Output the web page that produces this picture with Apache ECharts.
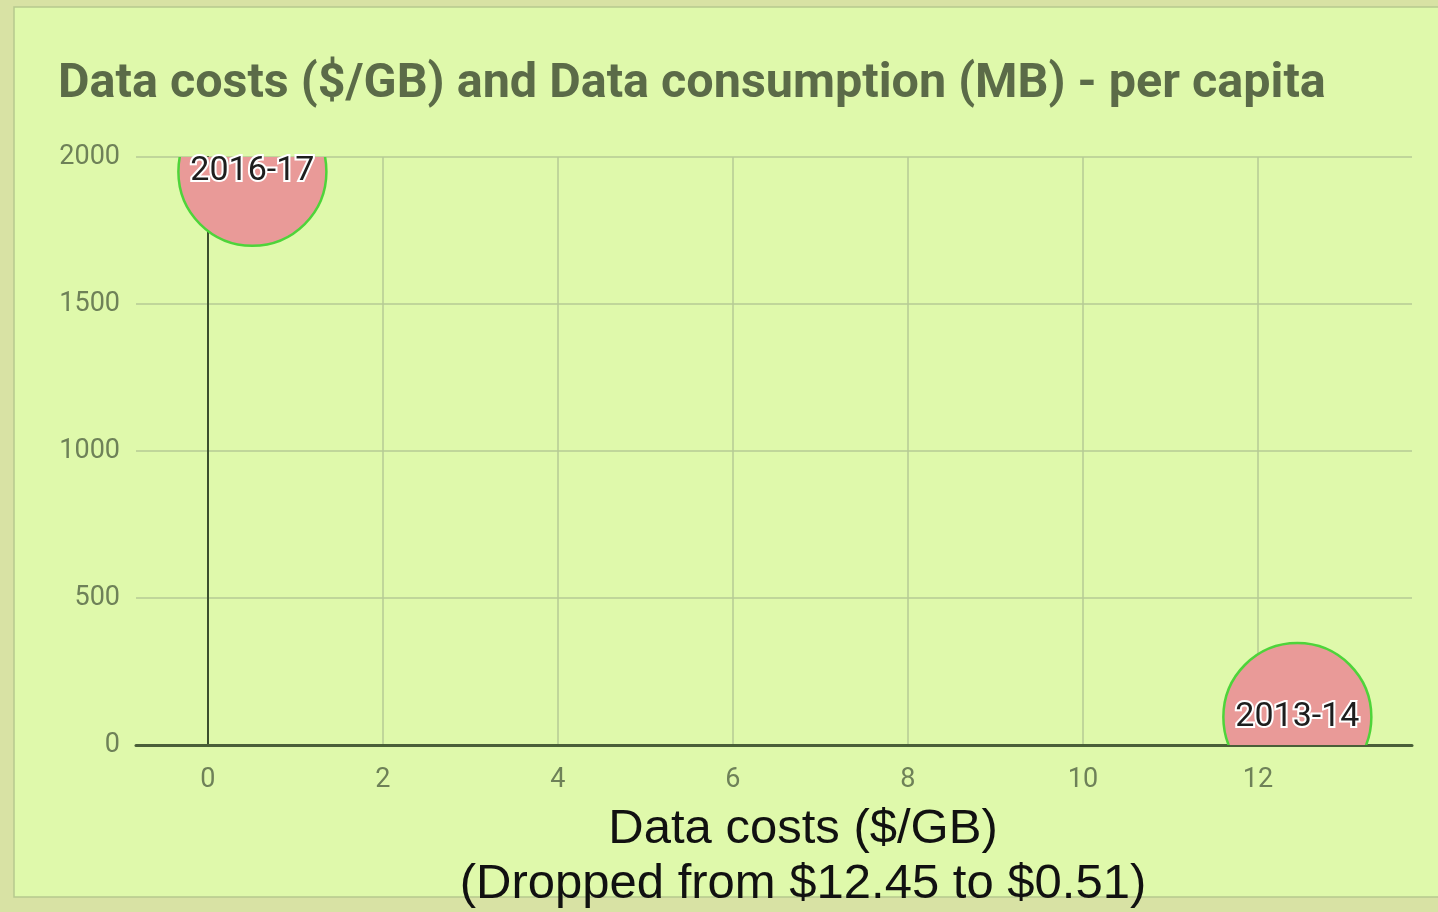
<!DOCTYPE html>
<html>
<head>
<meta charset="utf-8">
<script src="https://cdn.jsdelivr.net/npm/echarts@6/dist/echarts.min.js"></script>
<style>
  html, body { margin: 0; padding: 0; }
  #chart { width: 1438px; height: 912px; }
</style>
</head>
<body>
<div id="chart"></div>
<script>
// values
const periods = ['2016-17', '2013-14'];
const costPerGB = [0.51, 12.45];
const consumptionMB = [1950, 95];
const xTicks = [0, 2, 4, 6, 8, 10, 12];

const chart = echarts.init(document.getElementById('chart'), null, { renderer: 'canvas' });

const bubbleData = periods.map((p, i) => [costPerGB[i], consumptionMB[i]]);

const option = {
  backgroundColor: '#d8e2a4',
  animation: false,
  graphic: [{
    type: 'rect',
    z: -10,
    shape: { x: 14, y: 7, width: 1440, height: 890 },
    style: { fill: '#dff9ab', stroke: '#b7c98e', lineWidth: 1.5 }
  }],
  title: {
    text: 'Data costs ($/GB) and Data consumption (MB) - per capita',
    left: 58,
    top: 60,
    padding: 0,
    textStyle: {
      fontFamily: 'Roboto',
      fontWeight: 'bold',
      fontSize: 48.5,
      color: '#5b6b48'
    }
  },
  grid: { left: 136, right: 26, top: 157, bottom: 167, outerBoundsMode: 'none', containLabel: false },
  xAxis: {
    type: 'value',
    min: -0.82,
    max: 13.76,
    name: 'Data costs ($/GB)\n(Dropped from $12.45 to $0.51)',
    nameLocation: 'middle',
    nameGap: 57,
    nameTextStyle: {
      fontFamily: 'Liberation Sans',
      fontSize: 49,
      lineHeight: 55,
      color: '#111',
      padding: [0, 0, 0, 58]
    },
    axisLine: { show: true, onZero: false, lineStyle: { color: '#4a5f38', width: 3 } },
    axisTick: { show: false, customValues: xTicks },
    axisLabel: {
      customValues: xTicks,
      fontFamily: 'Roboto',
      fontSize: 27,
      color: '#6e8158',
      margin: 22
    },
    splitLine: { show: true, lineStyle: { color: '#b6ca95', width: 1.5 } }
  },
  yAxis: {
    type: 'value',
    min: 0,
    max: 2000,
    interval: 500,
    axisLine: { show: true, onZero: true, lineStyle: { color: '#3c4f2e', width: 2 } },
    axisTick: { show: false },
    axisLabel: {
      formatter: v => String(v),
      fontFamily: 'Roboto',
      fontSize: 27,
      color: '#6e8158',
      margin: 16
    },
    splitLine: { show: true, lineStyle: { color: '#b6ca95', width: 1.5 } }
  },
  series: [{
    type: 'custom',
    clip: false,
    data: bubbleData,
    renderItem: function (params, api) {
      const pt = api.coord([api.value(0), api.value(1)]);
      const cs = params.coordSys;
      return {
        type: 'group',
        children: [{
          type: 'circle',
          shape: { cx: pt[0], cy: pt[1], r: 74 },
          style: { fill: '#e99a98', stroke: '#4ed43a', lineWidth: 2.5 },
          clipPath: {
            type: 'rect',
            shape: { x: cs.x, y: cs.y, width: cs.width, height: cs.height }
          }
        }, {
          type: 'text',
          x: pt[0],
          y: pt[1],
          style: {
            text: periods[params.dataIndex],
            fontFamily: 'Roboto',
            fontSize: 34,
            fill: '#1e1e1e',
            stroke: '#fff',
            lineWidth: 4,
            align: 'center',
            verticalAlign: 'middle'
          }
        }]
      };
    }
  }]
};

chart.setOption(option);
</script>
</body>
</html>
